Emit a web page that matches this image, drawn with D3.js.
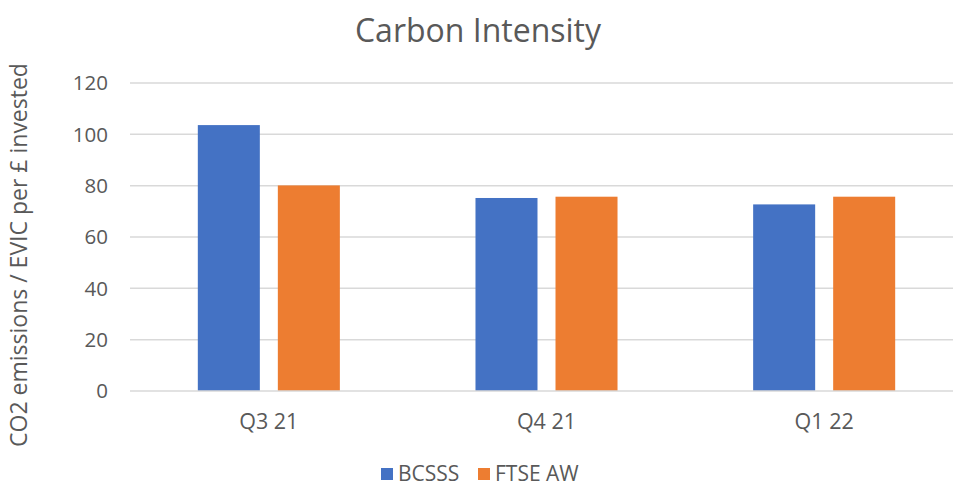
<!DOCTYPE html>
<html><head><meta charset="utf-8">
<script src="https://cdn.jsdelivr.net/npm/d3@7"></script>
<style>body{margin:0;background:#fff;} text{font-family:"Open Sans",sans-serif;fill:#595959;}</style>
</head><body><svg id="c" width="953" height="487"></svg>
<script>
const categories = ["Q3 21", "Q4 21", "Q1 22"];
const seriesNames = ["BCSSS", "FTSE AW"];
const bcsss = [103.6, 75.2, 72.7];
const ftseAW = [80.1, 75.7, 75.7];
const yTicks = [0, 20, 40, 60, 80, 100, 120];
const colors = ["#4472c4", "#ed7d31"];

const svg = d3.select("#c");
const mLeft = 130, mRight = 963, mTop = 83, mBottom = 391;
const x0 = d3.scaleBand().domain(categories).range([mLeft, mRight]);
const x1 = d3.scaleBand().domain(seriesNames).range([0, x0.bandwidth()]).paddingInner(0.225).paddingOuter(0.8475);
const y = d3.scaleLinear().domain([0, 120]).range([mBottom, mTop]);

// gridlines
svg.append("g").selectAll("line").data(yTicks.filter(d => d > 0)).join("line")
  .attr("x1", mLeft).attr("x2", mRight).attr("y1", d => y(d)).attr("y2", d => y(d))
  .attr("stroke", "#d9d9d9").attr("stroke-width", 1.5);

// y tick labels
svg.append("g").selectAll("text").data(yTicks).join("text")
  .attr("x", 108).attr("y", d => y(d)).attr("dy", "0.35em").attr("text-anchor", "end")
  .attr("font-size", 20.5).text(d => d);

// bars
const data = [bcsss, ftseAW];
seriesNames.forEach((s, i) => {
  svg.append("g").selectAll("rect").data(categories).join("rect")
    .attr("x", c => x0(c) + x1(s)).attr("width", x1.bandwidth())
    .attr("y", (c, j) => y(data[i][j])).attr("height", (c, j) => y(0) - y(data[i][j]))
    .attr("fill", colors[i]);
});

// baseline
svg.append("line").attr("x1", mLeft).attr("x2", mRight).attr("y1", y(0)).attr("y2", y(0))
  .attr("stroke", "#d9d9d9").attr("stroke-width", 1.5);

// category labels
svg.append("g").selectAll("text").data(categories).join("text")
  .attr("x", c => x0(c) + x0.bandwidth() / 2).attr("y", 429).attr("text-anchor", "middle")
  .attr("font-size", 21.5).text(c => c);

// title
svg.append("text").attr("x", 478).attr("y", 42).attr("text-anchor", "middle")
  .attr("font-size", 32).text("Carbon Intensity");

// y axis title
svg.append("text").attr("transform", "translate(27,255) rotate(-90)").attr("text-anchor", "middle")
  .attr("font-size", 23).text("CO2 emissions / EVIC per £ invested");

// legend
const legX = [381, 478];
seriesNames.forEach((s, i) => {
  svg.append("rect").attr("x", legX[i]).attr("y", 468).attr("width", 12).attr("height", 12).attr("fill", colors[i]);
  svg.append("text").attr("x", legX[i] + 17).attr("y", 474).attr("dy", "0.35em").attr("font-size", 21).text(s);
});
</script></body></html>
